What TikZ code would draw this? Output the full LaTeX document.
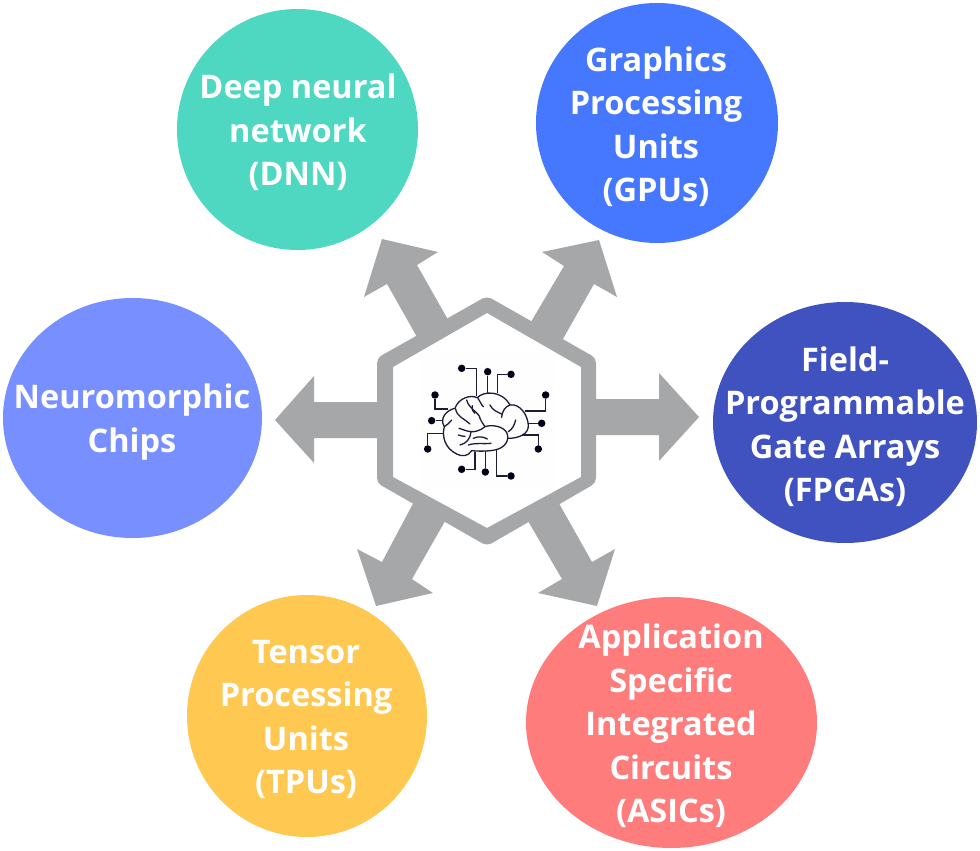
\documentclass[tikz,border=0pt]{standalone}
\usepackage{fontspec}
\setmainfont{Open Sans}
\usetikzlibrary{shapes.geometric}
\definecolor{arrowgray}{HTML}{A6A7A8}
\definecolor{cdnn}{HTML}{4FD8C1}
\definecolor{cgpu}{HTML}{4678FF}
\definecolor{cneuro}{HTML}{7890FF}
\definecolor{cfpga}{HTML}{3F52BF}
\definecolor{ctpu}{HTML}{FFC850}
\definecolor{casic}{HTML}{FF7C7C}
\definecolor{brainline}{HTML}{1C1C38}
\definecolor{corepale}{HTML}{FEFEFE}
\tikzset{
  blob/.style={ellipse,inner sep=0pt,outer sep=0pt,draw=none,minimum width=#1},
  lab/.style={text=white,align=center,inner sep=0pt,font=\bfseries\fontsize{32.5}{43.5}\selectfont},
  blockarrow/.style={fill=arrowgray,draw=none},
  brainstroke/.style={draw=brainline,line width=1.3pt,line cap=round,line join=round},
  trace/.style={draw=brainline,line width=1.2pt,line join=miter},
  pin/.style={circle,fill=black!90!blue,inner sep=0pt,minimum size=7.5pt}
}
\begin{document}
\begin{tikzpicture}[x=1pt,y=-1pt]
\useasboundingbox (0,0) rectangle (980,851);
% circles
\node[blob=241pt,minimum height=241pt,fill=cdnn] (dnn) at (297.5,129.5) {};
\node[blob=242pt,minimum height=240pt,fill=cgpu] (gpu) at (657,123) {};
\node[blob=259pt,minimum height=240pt,fill=cneuro] (neuro) at (132.5,418) {};
\node[blob=264pt,minimum height=241pt,fill=cfpga] (fpga) at (845,422.5) {};
\node[blob=240pt,minimum height=242pt,fill=ctpu] (tpu) at (307,716) {};
\node[blob=291pt,minimum height=251pt,fill=casic] (asic) at (671.5,722.5) {};
% labels
\node[lab] (ldnn) at (298,132.5) {Deep neural\\network\\(DNN)};
\node[lab] (lgpu) at (656,126.5) {Graphics\\Processing\\Units\\(GPUs)};
\node[lab] (lneuro) at (132,422) {Neuromorphic\\Chips};
\node[lab] (lfpga) at (845,426.5) {Field-\\Programmable\\Gate Arrays\\(FPGAs)};
\node[lab] (ltpu) at (306,719.5) {Tensor\\Processing\\Units\\(TPUs)};
\node[lab] (lasic) at (671,726) {Application\\Specific\\Integrated\\Circuits\\(ASICs)};
% arrows
\fill[blockarrow] (275,420) -- (314,376) -- (314,402) -- (385,402) -- (385,438) -- (314,438) -- (314,463) -- cycle;
\fill[blockarrow] (699,417) -- (659,373) -- (659,399) -- (588,399) -- (588,435) -- (659,435) -- (659,461) -- cycle;
\fill[blockarrow] (382,239) -- (438,252) -- (417,265) -- (451,325) -- (421,344) -- (387,284) -- (364,297) -- cycle;
\fill[blockarrow] (599,240) -- (542,252) -- (564,266) -- (528,327) -- (559,346) -- (594,284) -- (617,297) -- cycle;
\fill[blockarrow] (376,606) -- (357,549) -- (382,562) -- (417,496) -- (448,516) -- (412,579) -- (433,593) -- cycle;
\fill[blockarrow] (597,606) -- (538,593) -- (562,579) -- (525,516) -- (556,498) -- (592,562) -- (615,549) -- cycle;
% hexagon
\fill[arrowgray,even odd rule,rounded corners=5pt]
  (487,296) -- (596,358) -- (596,483) -- (487,546) -- (377,483) -- (377,358) -- cycle
  [sharp corners] (487,313) -- (581,367) -- (581,477) -- (487,528) -- (393,477) -- (393,367) -- cycle;
\node[draw=none,fill=corepale,minimum width=136pt,minimum height=136pt,inner sep=0pt] (hexcore) at (487,422) {};
% brain
\begin{scope}[shift={(415,355)},x=0.3333pt,y=-0.3333pt]
  \node[pin] (p1) at (140,40) {};
  \node[pin] (p2) at (218,50) {};
  \node[pin] (p3) at (288,58) {};
  \node[pin] (p4) at (60,120) {};
  \node[pin] (p5) at (50,197) {};
  \node[pin] (p6) at (38,282) {};
  \node[pin] (p7) at (392,120) {};
  \node[pin] (p8) at (380,205) {};
  \node[pin] (p9) at (370,282) {};
  \node[pin] (p10) at (140,343) {};
  \node[pin] (p11) at (211,351) {};
  \node[pin] (p12) at (288,363) {};
  \coordinate (t1) at (185,122);
  \coordinate (t2) at (218,115);
  \coordinate (t3) at (248,115);
  \coordinate (t4) at (100,162);
  \coordinate (t5) at (85,197);
  \coordinate (t6) at (88,235);
  \coordinate (t7) at (330,168);
  \coordinate (t8) at (340,205);
  \coordinate (t9) at (320,240);
  \coordinate (t10) at (180,290);
  \coordinate (t11) at (211,288);
  \coordinate (t12) at (245,285);
  \draw[trace] (p1) -| (t1);
  \draw[trace] (p2) -- (t2);
  \draw[trace] (p3) -| (t3);
  \draw[trace] (p4) |- (t4);
  \draw[trace] (p5) -- (t5);
  \draw[trace] (p6) |- (t6);
  \draw[trace] (p7) |- (t7);
  \draw[trace] (p8) -- (t8);
  \draw[trace] (p9) |- (t9);
  \draw[trace] (p10) -| (t10);
  \draw[trace] (p11) -- (t11);
  \draw[trace] (p12) -| (t12);
  \draw[brainstroke]
    (120,160) .. controls (130,130) and (165,118) .. (187,128)
    .. controls (205,108) and (260,105) .. (285,150)
    .. controls (315,145) and (338,180) .. (340,210)
    .. controls (342,238) and (310,250) .. (280,250);
  \draw[brainstroke]
    (120,160) .. controls (95,165) and (72,190) .. (88,215)
    .. controls (80,245) and (90,280) .. (125,297)
    .. controls (140,305) and (160,305) .. (170,287)
    .. controls (200,290) and (235,288) .. (250,282)
    .. controls (278,272) and (285,245) .. (272,228)
    .. controls (255,210) and (225,210) .. (210,215)
    .. controls (195,228) and (175,235) .. (150,226)
    -- (132,220);
  \draw[brainstroke] (122,162) .. controls (125,185) and (150,192) .. (165,207);
  \draw[brainstroke] (155,135) .. controls (160,160) and (195,175) .. (195,190) .. controls (197,200) and (205,205) .. (210,215);
  \draw[brainstroke] (188,128) .. controls (195,140) and (200,150) .. (205,155);
  \draw[brainstroke] (172,152) .. controls (170,165) and (175,172) .. (180,175);
  \draw[brainstroke] (225,150) .. controls (232,165) and (245,170) .. (260,177);
  \draw[brainstroke] (260,187) .. controls (262,165) and (272,155) .. (285,150);
  \draw[brainstroke] (302,195) .. controls (298,212) and (292,222) .. (280,230);
  \draw[brainstroke] (88,215) .. controls (95,208) and (105,205) .. (110,195);
  \draw[brainstroke] (168,232) .. controls (165,252) and (155,265) .. (135,270);
  \draw[brainstroke] (175,250) .. controls (190,243) and (205,245) .. (217,252);
  \draw[brainstroke] (160,270) .. controls (185,262) and (205,268) .. (228,265);
  \draw[brainstroke] (130,240) .. controls (138,242) and (145,245) .. (150,244);
\end{scope}
\end{tikzpicture}
\end{document}
